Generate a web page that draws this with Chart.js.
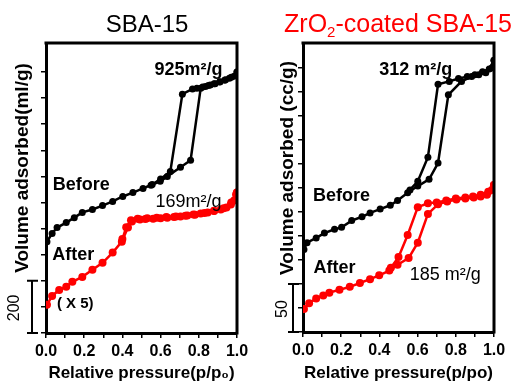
<!DOCTYPE html>
<html>
<head>
<meta charset="utf-8">
<script src="https://cdn.jsdelivr.net/npm/chart.js@4.4.1/dist/chart.umd.min.js"></script>
<style>
  html, body { margin: 0; padding: 0; background: #fff; }
  #wrap { position: relative; width: 513px; height: 385px; overflow: hidden; }
  canvas { position: absolute; top: 0; }
  #left { left: 0; }
  #right { left: 256px; }
</style>
</head>
<body>
<div id="wrap">
  <canvas id="left" width="256" height="385"></canvas>
  <canvas id="right" width="257" height="385"></canvas>
</div>
<script>
// ----------------------
// Data
// ----------------------
// SBA-15, before (ml/g)
const sbaBeforeAdsP = [0.005, 0.032, 0.058, 0.106, 0.148, 0.19, 0.243, 0.296, 0.349, 0.402, 0.455, 0.508, 0.556, 0.598, 0.635, 0.704, 0.757, 0.81, 0.835, 0.86, 0.885, 0.91, 0.935, 0.96, 0.985, 1.0];
const sbaBeforeAdsV = [350, 381, 404, 423, 442, 462, 473, 488, 504, 523, 538, 554, 569, 581, 600, 635, 662, 938, 944, 950, 955, 962, 968, 976, 984, 1000];
const sbaBeforeDesP = [1.0, 0.97, 0.94, 0.91, 0.88, 0.85, 0.82, 0.79, 0.767, 0.714, 0.651, 0.6, 0.55];
const sbaBeforeDesV = [1000, 980, 970, 963, 955, 948, 942, 938, 935, 915, 619, 590, 566];
// SBA-15, after (x5)
const sbaAfterAdsP = [0.005, 0.032, 0.069, 0.106, 0.138, 0.19, 0.243, 0.296, 0.349, 0.397, 0.429, 0.45, 0.492, 0.52, 0.561, 0.6, 0.635, 0.67, 0.704, 0.74, 0.772, 0.81, 0.847, 0.88, 0.915, 0.945, 0.968, 0.985, 0.995, 1.0];
const sbaAfterAdsV = [108, 142, 165, 177, 196, 215, 242, 269, 308, 350, 404, 427, 435, 437, 438, 440, 442, 444, 446, 450, 454, 458, 462, 467, 473, 481, 492, 508, 531, 538];
const sbaAfterDesP = [1.0, 0.97, 0.93, 0.88, 0.83, 0.78, 0.73, 0.68, 0.63, 0.58, 0.53, 0.48, 0.445, 0.42, 0.40];
const sbaAfterDesV = [538, 500, 478, 468, 460, 453, 449, 446, 444, 442, 440, 438, 432, 405, 360];

// ZrO2-coated SBA-15, before (cc/g)
const zrBeforeAdsP = [0.005, 0.021, 0.069, 0.112, 0.165, 0.202, 0.255, 0.309, 0.351, 0.404, 0.457, 0.495, 0.548, 0.601, 0.66, 0.707, 0.761, 0.83, 0.883, 0.92, 0.957, 0.989, 1.0];
const zrBeforeAdsV = [86, 93, 98, 103, 107, 109, 116, 120, 124, 128, 132, 137, 145, 152, 159, 176, 247, 261, 266, 268, 270, 275, 283];
const zrBeforeDesP = [1.0, 0.975, 0.94, 0.9, 0.86, 0.814, 0.766, 0.707, 0.654, 0.601, 0.56];
const zrBeforeDesV = [283, 274, 271, 268, 266, 264, 261, 258, 182, 157, 148];
// ZrO2-coated SBA-15, after
const zrAfterAdsP = [0.005, 0.032, 0.069, 0.106, 0.138, 0.191, 0.245, 0.298, 0.351, 0.399, 0.452, 0.495, 0.553, 0.601, 0.654, 0.707, 0.755, 0.803, 0.85, 0.894, 0.93, 0.963, 0.989, 1.0];
const zrAfterAdsV = [24, 30, 35, 38, 41, 44, 47, 51, 55, 59, 64, 70, 77, 93, 123, 133, 136, 138, 139, 140, 141, 143, 148, 153];
const zrAfterDesP = [1.0, 0.97, 0.93, 0.89, 0.85, 0.8, 0.75, 0.7, 0.654, 0.601, 0.548, 0.5, 0.46];
const zrAfterDesV = [153, 146, 143, 141, 140, 139, 137, 135, 134, 130, 101, 78, 67];

const FONT = 'Liberation Sans, Arial, sans-serif';
const BLACK = '#000000';
const RED = '#ff0000';

// ----------------------
// Helpers
// ----------------------
const pts = (ps, vs) => ps.map((p, i) => ({ x: p, y: vs[i] }));

function serie(ps, vs, color) {
  return {
    data: pts(ps, vs),
    showLine: true,
    borderColor: color,
    backgroundColor: color,
    borderWidth: 2.5,
    pointRadius: color === RED ? 4 : 3.5,
    pointBackgroundColor: color,
    pointBorderWidth: 0,
    tension: 0
  };
}

// Texts, title, box and scale bar drawn over the chart
const panelText = {
  id: 'panelText',
  afterDraw(chart, args, o) {
    const { ctx, chartArea: a, scales: { x, y } } = chart;
    ctx.save();

    // top and right edges of the frame
    ctx.strokeStyle = BLACK;
    ctx.lineWidth = 3;
    ctx.beginPath();
    ctx.moveTo(a.left - 1.5, a.top);
    ctx.lineTo(a.right, a.top);
    ctx.lineTo(a.right, a.bottom + 1.5);
    ctx.stroke();

    // title (pieces, with optional subscript)
    ctx.textBaseline = 'alphabetic';
    ctx.fillStyle = o.titleColor;
    const big = o.titleSize + 'px ';
    let w = 0;
    o.title.forEach(part => {
      ctx.font = (part.sub ? '15px ' : big) + FONT;
      w += ctx.measureText(part.t).width;
    });
    let tx = o.titleX - w / 2;
    o.title.forEach(part => {
      ctx.font = (part.sub ? '15px ' : big) + FONT;
      ctx.fillText(part.t, tx, part.sub ? 37 : 32);
      tx += ctx.measureText(part.t).width;
    });

    // y title
    ctx.fillStyle = BLACK;
    ctx.font = 'bold 19px ' + FONT;
    ctx.textAlign = 'center';
    ctx.textBaseline = 'middle';
    ctx.save();
    ctx.translate(o.yTitleX, 168);
    ctx.rotate(-Math.PI / 2);
    ctx.fillText(o.yTitle, 0, 0);
    ctx.restore();

    // notes placed in data space
    o.notes.forEach(n => {
      ctx.font = n.font + ' ' + FONT;
      ctx.fillStyle = BLACK;
      ctx.fillText(n.text, x.getPixelForValue(n.p), y.getPixelForValue(n.v));
    });

    // scale bar
    const y0 = y.getPixelForValue(0);
    const y1 = y.getPixelForValue(o.bar.value);
    ctx.lineWidth = 2;
    ctx.beginPath();
    ctx.moveTo(o.bar.x, y0); ctx.lineTo(o.bar.x, y1);
    ctx.moveTo(o.bar.x - 5, y1); ctx.lineTo(o.bar.x + 6, y1);
    ctx.moveTo(o.bar.x - 5, y0); ctx.lineTo(o.bar.x + 6, y0);
    ctx.stroke();
    ctx.font = '16px ' + FONT;
    ctx.save();
    ctx.translate(o.bar.labelX, (y0 + y1) / 2 + 1);
    ctx.rotate(-Math.PI / 2);
    ctx.fillText(o.bar.label, 0, 0);
    ctx.restore();

    ctx.restore();
  }
};

function makeChart(id, cfg) {
  return new Chart(document.getElementById(id), {
    type: 'scatter',
    data: { datasets: cfg.datasets },
    options: {
      responsive: false,
      animation: false,
      devicePixelRatio: 1,
      layout: { padding: { top: 43, right: 19, bottom: 0, left: 0 } },
      plugins: {
        legend: { display: false },
        tooltip: { enabled: false },
        panelText: cfg.text
      },
      scales: {
        x: {
          type: 'linear', min: 0, max: 1,
          afterFit: s => { s.height = cfg.xHeight; },
          ticks: {
            stepSize: 0.1, autoSkip: false, maxRotation: 0, padding: 4, color: BLACK,
            font: { family: FONT, weight: 'bold', size: 16 },
            callback: v => { const k = Math.round(v * 10); return k % 2 === 0 ? (k / 10).toFixed(1) : ''; }
          },
          grid: { drawOnChartArea: false, drawTicks: true, tickLength: 5, color: BLACK, lineWidth: 1.5 },
          border: { color: BLACK, width: 3 },
          title: {
            display: true, text: cfg.xTitle, color: BLACK,
            font: { family: FONT, weight: 'bold', size: 17 },
            padding: { top: 0, bottom: 1 }
          }
        },
        y: {
          type: 'linear', min: 0, max: cfg.yMax,
          afterFit: s => { s.width = cfg.yWidth; },
          afterBuildTicks: s => { s.ticks = s.ticks.filter(t => t.value % cfg.yStep === 0); },
          ticks: { stepSize: cfg.yStep, display: false },
          grid: { drawOnChartArea: false, drawTicks: true, tickLength: 5, color: BLACK, lineWidth: 1.5 },
          border: { color: BLACK, width: 3 }
        }
      }
    },
    plugins: [panelText]
  });
}

// ----------------------
// Panels
// ----------------------
makeChart('left', {
  yMax: 1111, yStep: 100, yWidth: 46, xHeight: 52,
  xTitle: 'Relative pressure(p/p\u2080)',
  datasets: [
    serie(sbaBeforeAdsP, sbaBeforeAdsV, BLACK),
    serie(sbaBeforeDesP, sbaBeforeDesV, BLACK),
    serie(sbaAfterAdsP, sbaAfterAdsV, RED),
    serie(sbaAfterDesP, sbaAfterDesV, RED)
  ],
  text: {
    title: [{ t: 'SBA-15' }], titleX: 147, titleColor: BLACK, titleSize: 24,
    yTitle: 'Volume adsorbed(ml/g)', yTitleX: 23,
    notes: [
      { text: '925m\u00b2/g', p: 0.746, v: 1007, font: 'bold 18px' },
      { text: 'Before', p: 0.185, v: 567, font: 'bold 18px' },
      { text: '169m\u00b2/g', p: 0.746, v: 502, font: '18px' },
      { text: 'After', p: 0.143, v: 299, font: 'bold 18px' },
      { text: '( X 5)', p: 0.153, v: 111, font: 'bold 15px' }
    ],
    bar: { value: 200, label: '200', x: 32, labelX: 15 }
  }
});

makeChart('right', {
  yMax: 301, yStep: 25, yWidth: 47, xHeight: 53,
  xTitle: 'Relative pressure(p/po)',
  datasets: [
    serie(zrBeforeAdsP, zrBeforeAdsV, BLACK),
    serie(zrBeforeDesP, zrBeforeDesV, BLACK),
    serie(zrAfterAdsP, zrAfterAdsV, RED),
    serie(zrAfterDesP, zrAfterDesV, RED)
  ],
  text: {
    title: [{ t: 'ZrO' }, { t: '2', sub: true }, { t: '-coated SBA-15' }], titleX: 142, titleColor: RED, titleSize: 25,
    yTitle: 'Volume adsorbed (cc/g)', yTitleX: 32,
    notes: [
      { text: '312 m\u00b2/g', p: 0.59, v: 273, font: 'bold 18px' },
      { text: 'Before', p: 0.202, v: 142, font: 'bold 18px' },
      { text: 'After', p: 0.165, v: 67, font: 'bold 18px' },
      { text: '185 m\u00b2/g', p: 0.745, v: 59, font: '18px' }
    ],
    bar: { value: 50, label: '50', x: 37, labelX: 27 }
  }
});
</script>
</body>
</html>
